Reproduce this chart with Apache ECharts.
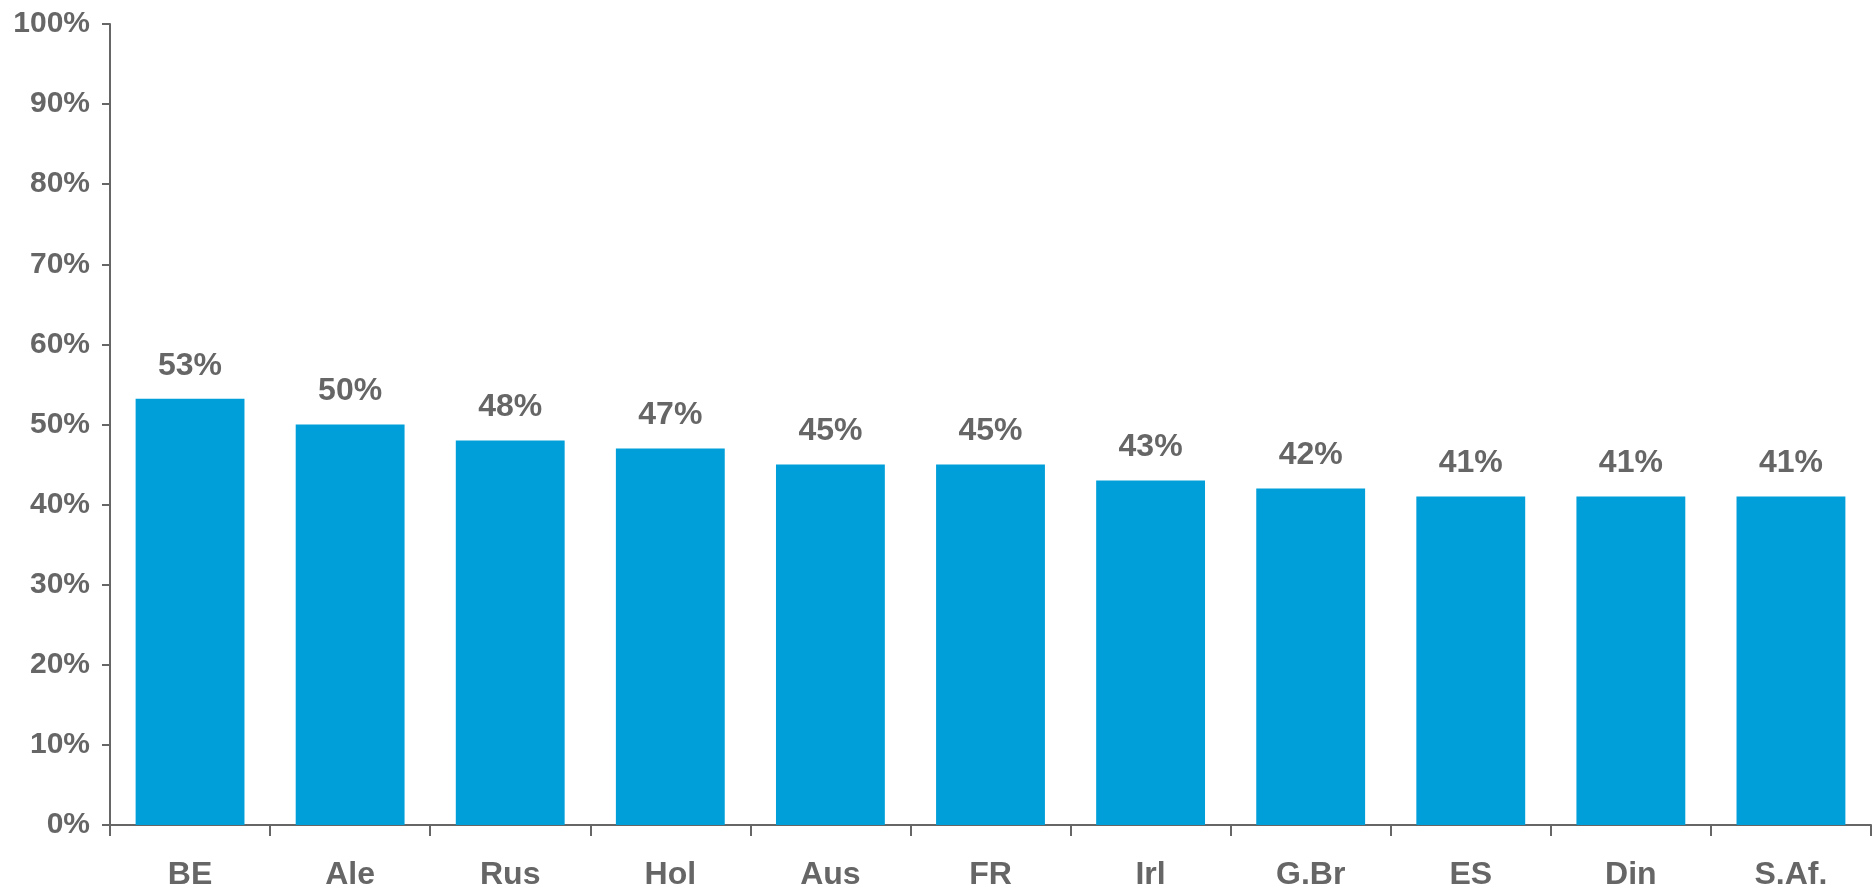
<!DOCTYPE html>
<html>
<head>
<meta charset="utf-8">
<script src="https://cdn.jsdelivr.net/npm/echarts@6/dist/echarts.min.js"></script>
<style>
html,body{margin:0;padding:0;background:#fff;}
#chart{width:1876px;height:893px;}
</style>
</head>
<body>
<div id="chart"></div>
<script>
const categories = ['BE','Ale','Rus','Hol','Aus','FR','Irl','G.Br','ES','Din','S.Af.'];
const values = [53.2, 50, 48, 47, 45, 45, 43, 42, 41, 41, 41];
const yTicks = [0, 10, 20, 30, 40, 50, 60, 70, 80, 90, 100];

const gray = '#666666';
const font = '"Liberation Sans", Arial, sans-serif';
const chart = echarts.init(document.getElementById('chart'));
chart.setOption({
  animation: false,
  grid: { left: 110, right: 5, top: 24, bottom: 68, containLabel: false },
  xAxis: {
    type: 'category',
    data: categories,
    axisLine: { lineStyle: { color: gray, width: 2 } },
    axisTick: { show: true, length: 11, alignWithLabel: false, lineStyle: { color: gray, width: 2 } },
    axisLabel: { color: gray, fontSize: 32, fontWeight: 'bold', fontFamily: font, margin: 34 }
  },
  yAxis: {
    type: 'value',
    min: yTicks[0],
    max: yTicks[yTicks.length - 1],
    interval: 10,
    splitLine: { show: false },
    axisLine: { show: true, lineStyle: { color: gray, width: 2 } },
    axisTick: { show: true, length: 8, lineStyle: { color: gray, width: 2 } },
    axisLabel: { color: gray, fontSize: 30, fontWeight: 'bold', fontFamily: font, margin: 20, formatter: v => v + '%' }
  },
  series: [{
    type: 'bar',
    data: values,
    barWidth: '68%',
    itemStyle: { color: '#009FDA' },
    label: {
      show: true,
      position: 'top',
      distance: 17,
      color: gray,
      fontSize: 32,
      fontWeight: 'bold',
      fontFamily: font,
      formatter: p => Math.round(p.value) + '%'
    }
  }]
});
</script>
</body>
</html>
